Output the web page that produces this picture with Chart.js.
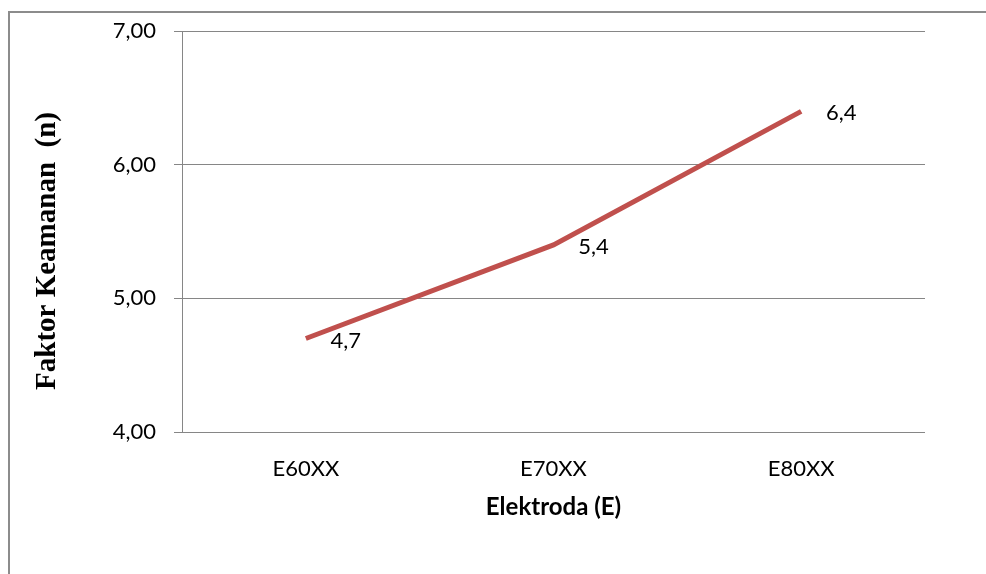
<!DOCTYPE html>
<html lang="id">
<head>
    <meta charset="UTF-8">
    <title>Faktor Keamanan per Elektroda</title>
    <script src="https://cdn.jsdelivr.net/npm/chart.js@4.4.0/dist/chart.umd.min.js"></script>
    <style>
        html, body {
            margin: 0;
            padding: 0;
            background: #ffffff;
            overflow: hidden;
        }
        #frame {
            position: absolute;
            left: 8px;
            top: 11px;
            width: 1100px;
            height: 700px;
            border: 2px solid #8c8c8c;
        }
        #chart {
            position: absolute;
            left: 0;
            top: 0;
        }
    </style>
</head>
<body>
    <div id="frame"></div>
    <canvas id="chart" width="986" height="574"></canvas>

    <script>
        // values
        const categories = ['E60XX', 'E70XX', 'E80XX'];
        const faktorKeamanan = [4.7, 5.4, 6.4];
        const yTicks = [4, 5, 6, 7];

        const fmt = (v, d) => v.toFixed(d).replace('.', ',');

        // value labels next to each point
        const valueLabels = {
            id: 'valueLabels',
            afterDatasetsDraw(chart) {
                const ctx = chart.ctx;
                const meta = chart.getDatasetMeta(0);
                ctx.save();
                ctx.font = '22px Lato';
                ctx.fillStyle = '#000000';
                ctx.textAlign = 'center';
                ctx.textBaseline = 'middle';
                meta.data.forEach((pt, i) => {
                    ctx.fillText(fmt(faktorKeamanan[i], 1), pt.x + 40, pt.y + 2);
                });
                ctx.restore();
            }
        };

        // y axis title sits a bit lower than the plot centre in the original
        const yTitle = {
            id: 'yTitle',
            afterDraw(chart) {
                const ctx = chart.ctx;
                ctx.save();
                ctx.translate(48, 251);
                ctx.rotate(-Math.PI / 2);
                ctx.font = 'bold 29px "Liberation Serif"';
                ctx.fillStyle = '#000000';
                ctx.textAlign = 'center';
                ctx.textBaseline = 'middle';
                ctx.fillText('Faktor Keamanan  (n)', 0, 0);
                ctx.restore();
            }
        };

        new Chart(document.getElementById('chart'), {
            type: 'line',
            data: {
                labels: categories,
                datasets: [{
                    data: faktorKeamanan,
                    borderColor: '#C0504D',
                    borderWidth: 5,
                    pointRadius: 0,
                    tension: 0,
                    fill: false
                }]
            },
            options: {
                responsive: false,
                animation: false,
                devicePixelRatio: 1,
                layout: { padding: { top: 28, right: 61, bottom: 0, left: 0 } },
                plugins: {
                    legend: { display: false },
                    tooltip: { enabled: false }
                },
                scales: {
                    x: {
                        offset: true,
                        afterFit(scale) { scale.height = 142; },
                        grid: { display: false, drawTicks: false },
                        border: { display: false },
                        ticks: {
                            color: '#000000',
                            font: { family: 'Lato', size: 22 },
                            padding: 24,
                            maxRotation: 0
                        },
                        title: {
                            display: true,
                            text: 'Elektroda (E)',
                            color: '#000000',
                            font: { family: 'Lato', size: 24, weight: 'bold' },
                            padding: { top: 0, bottom: 52 }
                        }
                    },
                    y: {
                        min: 4,
                        max: 7,
                        afterFit(scale) { scale.width = 182; },
                        afterBuildTicks(scale) {
                            scale.ticks = yTicks.map(v => ({ value: v }));
                        },
                        grid: {
                            color: '#868686',
                            lineWidth: 1,
                            tickLength: 8
                        },
                        border: { display: true, color: '#868686', width: 1 },
                        ticks: {
                            color: '#000000',
                            font: { family: 'Lato', size: 22 },
                            padding: 18,
                            callback: v => fmt(v, 2)
                        }
                    }
                }
            },
            plugins: [valueLabels, yTitle]
        });
    </script>
</body>
</html>
